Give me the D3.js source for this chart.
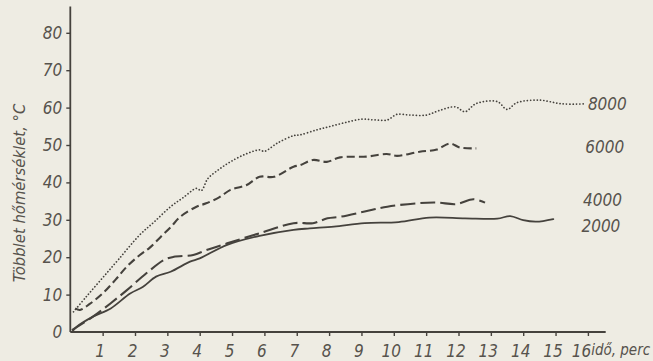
<!DOCTYPE html>
<html><head><meta charset="utf-8">
<script src="https://cdn.jsdelivr.net/npm/d3@7"></script>
<style>
html,body{margin:0;padding:0;background:#eeece3;}
svg{display:block;}
text{font-family:"DejaVu Sans Condensed","DejaVu Sans",sans-serif;font-style:italic;fill:#57534d;}
</style></head>
<body><svg id="c" width="653" height="361"></svg>
<script>
// ---- data ----
const xTicks = [1,2,3,4,5,6,7,8,9,10,11,12,13,14,15,16];
const yTicks = [0,10,20,30,40,50,60,70,80];
const seriesNames = ["8000","6000","4000","2000"];
const s8000_t = [0.1,0.5,1.0,1.5,2.15,2.6,3.1,3.5,3.9,4.05,4.25,4.6,4.95,5.4,5.85,6.0,6.4,6.9,7.1,7.6,8.0,8.5,9.0,9.4,9.8,10.1,10.5,11.0,11.4,11.9,12.2,12.55,13.2,13.5,13.8,14.5,15.2,15.95];
const s8000_v = [5.4,9.5,14.5,19.5,26,29.5,33.5,36,38.4,37.8,41,43.5,45.5,47.5,48.7,48.3,50.5,52.5,52.7,54,54.9,56,56.9,56.7,56.7,58.2,58,58,59.2,60.2,58.9,61.1,61.6,59.5,61.3,62,61,61];
const s6000_t = [0.15,0.3,0.6,1.0,1.4,1.75,2.15,2.45,2.8,3.1,3.4,3.9,4.2,4.6,4.95,5.45,5.85,6.3,6.9,7.1,7.5,7.93,8.34,9.16,9.78,10.1,10.8,11.33,11.74,12.05,12.55];
const s6000_v = [6.3,5.9,7.5,10.3,14,17.5,20.6,22.5,25.5,28,30.8,33.5,34.4,36,38,39.3,41.5,41.5,44.2,44.6,46,45.5,46.7,46.9,47.6,47.1,48.2,48.8,50.4,49.3,49.1];
const s4000_t = [0.05,0.7,1.25,1.75,2.35,2.9,3.2,3.8,4.2,4.85,5.85,6.9,7.5,7.95,8.34,9.1,9.8,10.7,11.33,11.94,12.46,12.82];
const s4000_v = [0.5,4.1,7.7,11.2,15.7,19.3,20.1,20.6,21.9,23.7,26.4,29.1,29.1,30.4,30.8,32.2,33.5,34.4,34.6,34.2,35.5,34.6];
const s2000_t = [0.05,0.2,0.7,1.25,1.85,2.25,2.65,3.1,3.7,4.0,4.85,5.85,6.9,7.4,8.15,9.1,10.15,11.1,12.2,13.2,13.6,14.0,14.4,14.93];
const s2000_v = [0,1.4,4.1,6.3,10.3,12.1,14.8,16.1,18.8,19.7,23.3,25.7,27.3,27.7,28.2,29.1,29.4,30.6,30.4,30.3,31,29.9,29.5,30.2];
const labelT = [16.0,15.92,15.85,15.8];
const labelV = [59.4,47.9,33.7,26.8];
const xTitle = "idő, perc";
const yTitle = "Többlet hőmérséklet, °C";

// ---- chart ----
const svg = d3.select("#c");
const x = d3.scaleLinear().domain([0,16]).range([70.3, 70.3+32.35*16]);
const y = d3.scaleLinear().domain([0,80]).range([332, 332-3.74*80]);
const ink = "#45423d";

// axes lines
svg.append("line").attr("x1",x(0)).attr("x2",x(0)).attr("y1",y(87)).attr("y2",y(0))
  .attr("stroke",ink).attr("stroke-width",1.8);
svg.append("line").attr("x1",x(0)).attr("x2",x(16.55)).attr("y1",y(0)).attr("y2",y(0))
  .attr("stroke",ink).attr("stroke-width",1.8);

const ax = svg.append("g").attr("transform",`translate(0,${y(0)})`)
  .call(d3.axisBottom(x).tickValues(xTicks).tickSize(4).tickSizeOuter(0).tickPadding(9));
ax.select(".domain").remove();
ax.selectAll("line").attr("stroke",ink).attr("stroke-width",1.4);
ax.selectAll("text").attr("font-size",17).attr("fill","#57534d").attr("dx",d=>d===16?-7:-3);

const ay = svg.append("g").attr("transform",`translate(${x(0)},0)`)
  .call(d3.axisLeft(y).tickValues(yTicks).tickSize(4).tickSizeOuter(0).tickPadding(4));
ay.select(".domain").remove();
ay.selectAll("line").attr("stroke",ink).attr("stroke-width",1.4);
ay.selectAll("text").attr("font-size",17).attr("fill","#57534d");
ay.selectAll(".tick").filter(d=>d===0).select("line").remove();

// titles
svg.append("text").attr("x",x(16.1)).attr("y",355).attr("font-size",15)
  .attr("textLength",59).attr("lengthAdjust","spacingAndGlyphs").text(xTitle);
svg.append("text").attr("transform",`translate(25,193) rotate(-90)`).attr("text-anchor","middle")
  .attr("font-size",16.5).text(yTitle);

// series
const series = [
  {t:s8000_t,v:s8000_v,dash:"0.1,3.2",w:1.7,cap:"round"},
  {t:s6000_t,v:s6000_v,dash:"8,4",w:2.1,cap:"butt"},
  {t:s4000_t,v:s4000_v,dash:"15,5",w:2.1,cap:"butt"},
  {t:s2000_t,v:s2000_v,dash:null,w:1.8,cap:"round"}
];
const line = d3.line().x(d=>x(d[0])).y(d=>y(d[1])).curve(d3.curveCatmullRom.alpha(0.5));
series.forEach((s,i)=>{
  const pts = s.t.map((t,j)=>[t,s.v[j]]);
  const p = svg.append("path").attr("d",line(pts)).attr("fill","none")
    .attr("stroke",ink).attr("stroke-width",s.w).attr("stroke-linecap",s.cap).attr("stroke-linejoin","round");
  if(s.dash) p.attr("stroke-dasharray",s.dash);
  svg.append("text").attr("x",x(labelT[i])).attr("y",y(labelV[i])).attr("font-size",17).text(seriesNames[i]);
});
</script></body></html>
